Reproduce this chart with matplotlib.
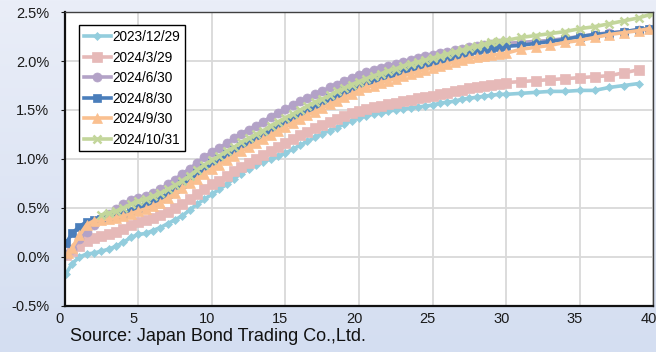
import numpy as np
import matplotlib
matplotlib.use("Agg")
import matplotlib.pyplot as plt
import matplotlib.transforms as mtransforms
from matplotlib.ticker import FuncFormatter

plt.rcParams['font.family'] = ['Liberation Sans', 'DejaVu Sans']

# residual maturity (years), common half-year grid up to 30y
grid = [0.5, 1.0, 1.5, 2.0, 2.5, 3.0, 3.5, 4.0, 4.5, 5.0,
        5.5, 6.0, 6.5, 7.0, 7.5, 8.0, 8.5, 9.0, 9.5, 10.0,
        10.5, 11.0, 11.5, 12.0, 12.5, 13.0, 13.5, 14.0, 14.5, 15.0,
        15.5, 16.0, 16.5, 17.0, 17.5, 18.0, 18.5, 19.0, 19.5, 20.0,
        20.5, 21.0, 21.5, 22.0, 22.5, 23.0, 23.5, 24.0, 24.5, 25.0,
        25.5, 26.0, 26.5, 27.0, 27.5, 28.0, 28.5, 29.0, 29.5, 30.0]
tail = [31, 32, 33, 34, 35, 36, 37, 38, 39]

labels = ['2023/12/29', '2024/3/29', '2024/6/30', '2024/8/30', '2024/9/30', '2024/10/31']

# yields (%)
y_1229 = [-0.07, 0.00, 0.03, 0.04, 0.06, 0.08, 0.11, 0.15, 0.20, 0.23,
          0.24, 0.27, 0.30, 0.34, 0.38, 0.42, 0.48, 0.54, 0.59, 0.64,
          0.69, 0.74, 0.80, 0.85, 0.90, 0.94, 0.97, 1.00, 1.03, 1.06,
          1.10, 1.14, 1.18, 1.22, 1.26, 1.29, 1.32, 1.36, 1.39, 1.42,
          1.44, 1.46, 1.47, 1.49, 1.50, 1.51, 1.52, 1.53, 1.54, 1.55,
          1.57, 1.58, 1.59, 1.61, 1.62, 1.63, 1.64, 1.65, 1.66, 1.66]
tail_1229 = [1.67, 1.68, 1.69, 1.69, 1.70, 1.70, 1.73, 1.75, 1.77]

y_0329 = [0.06, 0.11, 0.16, 0.19, 0.21, 0.23, 0.25, 0.29, 0.33, 0.36,
          0.38, 0.40, 0.43, 0.46, 0.50, 0.54, 0.59, 0.64, 0.69, 0.74,
          0.78, 0.83, 0.88, 0.92, 0.96, 1.00, 1.04, 1.08, 1.12, 1.16,
          1.20, 1.24, 1.28, 1.32, 1.35, 1.38, 1.41, 1.44, 1.47, 1.49,
          1.51, 1.53, 1.54, 1.56, 1.57, 1.59, 1.60, 1.62, 1.63, 1.64,
          1.66, 1.67, 1.69, 1.70, 1.72, 1.73, 1.75, 1.76, 1.77, 1.78]
tail_0329 = [1.79, 1.80, 1.81, 1.82, 1.83, 1.84, 1.85, 1.88, 1.91]

y_0630 = [0.08, 0.18, 0.26, 0.33, 0.39, 0.44, 0.49, 0.54, 0.58, 0.60,
          0.62, 0.65, 0.69, 0.74, 0.79, 0.85, 0.90, 0.96, 1.02, 1.07,
          1.11, 1.16, 1.21, 1.26, 1.30, 1.34, 1.38, 1.43, 1.47, 1.51,
          1.55, 1.59, 1.62, 1.66, 1.69, 1.73, 1.76, 1.80, 1.83, 1.86,
          1.89, 1.91, 1.93, 1.95, 1.97, 1.99, 2.01, 2.03, 2.05, 2.06,
          2.08, 2.09, 2.11, 2.12, 2.14, 2.15, 2.16, 2.17, 2.18, 2.18]
tail_0630 = [2.19, 2.20, 2.21, 2.23, 2.25, 2.27, 2.29, 2.30, 2.32, 2.33]

y_0830 = [0.24, 0.31, 0.36, 0.38, 0.39, 0.41, 0.42, 0.44, 0.47, 0.50,
          0.53, 0.56, 0.60, 0.64, 0.69, 0.74, 0.80, 0.86, 0.91, 0.96,
          1.00, 1.05, 1.09, 1.13, 1.17, 1.21, 1.25, 1.30, 1.34, 1.38,
          1.42, 1.46, 1.50, 1.54, 1.58, 1.62, 1.65, 1.69, 1.72, 1.76,
          1.79, 1.81, 1.84, 1.86, 1.88, 1.90, 1.92, 1.95, 1.97, 1.99,
          2.01, 2.03, 2.05, 2.07, 2.09, 2.11, 2.12, 2.13, 2.14, 2.15]
tail_0830 = [2.16, 2.18, 2.20, 2.22, 2.25, 2.27, 2.28, 2.30, 2.32, 2.33]

y_0930 = [0.09, 0.22, 0.33, 0.37, 0.38, 0.39, 0.40, 0.42, 0.44, 0.47,
          0.49, 0.52, 0.55, 0.60, 0.65, 0.70, 0.75, 0.80, 0.85, 0.90,
          0.94, 0.99, 1.03, 1.08, 1.12, 1.16, 1.20, 1.24, 1.29, 1.33,
          1.37, 1.41, 1.45, 1.48, 1.52, 1.56, 1.59, 1.63, 1.66, 1.70,
          1.73, 1.75, 1.78, 1.80, 1.82, 1.85, 1.87, 1.89, 1.91, 1.93,
          1.95, 1.97, 1.99, 2.01, 2.03, 2.04, 2.05, 2.06, 2.07, 2.08]
tail_0930 = [2.12, 2.14, 2.16, 2.19, 2.21, 2.24, 2.27, 2.29, 2.31, 2.33]

# 2024/10/31 has no quotes below 2.5y
y_1031 = [0.43, 0.45, 0.47, 0.50, 0.54, 0.57,
          0.59, 0.62, 0.65, 0.69, 0.73, 0.78, 0.83, 0.89, 0.94, 0.99,
          1.03, 1.08, 1.12, 1.17, 1.21, 1.25, 1.29, 1.34, 1.38, 1.42,
          1.46, 1.50, 1.54, 1.58, 1.61, 1.65, 1.69, 1.72, 1.76, 1.79,
          1.82, 1.85, 1.87, 1.90, 1.92, 1.95, 1.97, 1.99, 2.01, 2.03,
          2.05, 2.07, 2.09, 2.11, 2.13, 2.15, 2.17, 2.19, 2.20, 2.21]
tail_1031 = [2.24, 2.26, 2.28, 2.30, 2.33, 2.35, 2.38, 2.41, 2.44, 2.48]

# shortest / longest bond per date
first_pt = {'2023/12/29': (0.1, -0.17), '2024/3/29': (0.1, 0.02),
            '2024/6/30': (0.1, 0.03), '2024/8/30': (0.1, 0.14),
            '2024/9/30': (0.25, 0.04)}
last_x = {'2024/6/30': 39.7, '2024/8/30': 39.7, '2024/9/30': 39.7, '2024/10/31': 39.9}

colors = ['#93cddd', '#e6b9b8', '#b3a2c7', '#4a7ebb', '#fac090', '#c3d69b']
markers = ['D', 's', 'o', 's', '^', 'x']
msizes = [4, 7, 6.5, 6, 7.5, 6]

fig = plt.figure(figsize=(6.56, 3.52), dpi=100)

# light blue gradient behind everything
bg = fig.add_axes([0, 0, 1, 1], zorder=-10)
top = np.array([234, 238, 248]) / 255
bot = np.array([212, 222, 241]) / 255
t = np.linspace(0, 1, 256)[:, None, None]
grad = top * (1 - t) + bot * t
bg.imshow(np.repeat(grad, 2, axis=1), aspect='auto', extent=[0, 1, 0, 1])
bg.axis('off')

ax = fig.add_axes([0.0985, 0.1307, 0.8975, 0.8352])
ax.set_facecolor('white')

series = [y_1229, y_0329, y_0630, y_0830, y_0930, y_1031]
tails = [tail_1229, tail_0329, tail_0630, tail_0830, tail_0930, tail_1031]

for i, name in enumerate(labels):
    vals = series[i]
    xs = grid[len(grid) - len(vals):]
    xx = list(xs) + list(tail)
    yy = list(vals) + list(tails[i][:len(tail)])
    if name in first_pt:
        xx = [first_pt[name][0]] + xx
        yy = [first_pt[name][1]] + yy
    if name in last_x:
        xx = xx + [last_x[name]]
        yy = yy + [tails[i][-1]]
    ax.plot(xx, yy, color=colors[i], marker=markers[i], markersize=msizes[i],
            markeredgewidth=1.8 if markers[i] == 'x' else 0.5,
            markeredgecolor=colors[i], linewidth=2.6, label=name)

ax.set_xlim(0, 40)
ax.set_ylim(-0.5, 2.5)
ax.set_xticks([0, 5, 10, 15, 20, 25, 30, 35, 40])
ax.set_yticks([-0.5, 0.0, 0.5, 1.0, 1.5, 2.0, 2.5])
ax.yaxis.set_major_formatter(FuncFormatter(lambda v, p: f'{v:.1f}%'))
ax.grid(True, color='#d9d9d9', linewidth=1.3)
ax.set_axisbelow(True)
ax.tick_params(axis='y', direction='out', length=3, pad=8, labelsize=10.5, colors='#1a1a1a')
ax.tick_params(axis='x', length=0, pad=4, labelsize=10.5, colors='#1a1a1a')
# x labels sit a little left of their gridlines
shift = mtransforms.ScaledTranslation(-5 / 100, 0, fig.dpi_scale_trans)
for lbl in ax.get_xticklabels():
    lbl.set_transform(lbl.get_transform() + shift)
for side in ['left', 'bottom']:
    ax.spines[side].set_color('#111111')
    ax.spines[side].set_linewidth(1.6)
for side in ['top', 'right']:
    ax.spines[side].set_color('#404040')
    ax.spines[side].set_linewidth(1.0)

leg = ax.legend(loc='upper left', bbox_to_anchor=(0.024, 0.955), fontsize=9.8,
                frameon=True, fancybox=False, framealpha=1, edgecolor='black',
                handlelength=2.0, handletextpad=0.15, labelspacing=0.48,
                borderpad=0.35, borderaxespad=0)
leg.get_frame().set_linewidth(1.0)

fig.text(0.107, 0.045, 'Source: Japan Bond Trading Co.,Ltd.', fontsize=13,
         va='center', ha='left', color='#111111')

fig.savefig('out.png', dpi=100)
